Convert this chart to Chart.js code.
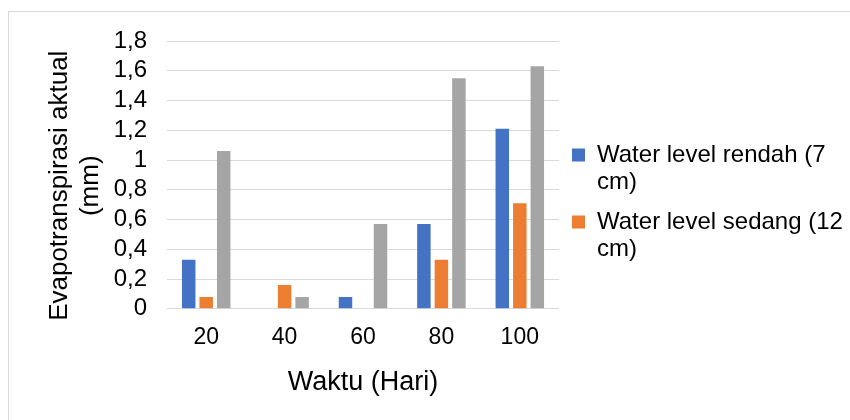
<!DOCTYPE html>
<html>
<head>
<meta charset="utf-8">
<script src="https://cdn.jsdelivr.net/npm/chart.js@4.4.1/dist/chart.umd.min.js"></script>
<style>
  html, body { margin: 0; padding: 0; background: #fff; overflow: hidden; }
  #frame { position: absolute; left: 8px; top: 11px; width: 900px; height: 450px;
           border-left: 1px solid #d9d9d9; border-top: 1px solid #d9d9d9; }
  #wrap { position: absolute; left: 0; top: 0; width: 850px; height: 420px; }
</style>
</head>
<body>
<div id="frame"></div>
<div id="wrap"><canvas id="chart"></canvas></div>
<script>
// data
const categories = ['20', '40', '60', '80', '100'];
const seriesNames = ['Water level rendah (7 cm)', 'Water level sedang (12 cm)', 'Water level tinggi (17 cm)'];
const rendah = [0.33, 0, 0.08, 0.57, 1.21];
const sedang = [0.08, 0.16, 0, 0.33, 0.71];
const tinggi = [1.06, 0.08, 0.57, 1.55, 1.63];
const yTickLabels = ['0', '0,2', '0,4', '0,6', '0,8', '1', '1,2', '1,4', '1,6', '1,8'];

const colors = ['#4472C4', '#ED7D31', '#A5A5A5'];
const FONT = "'Liberation Sans', Arial, sans-serif";

// legend labels wrap their last word onto a second line, like the original
function wrapLast(text) {
    const i = text.lastIndexOf(' ');
    return i > 0 ? [text.slice(0, i), text.slice(i + 1)] : text;
}

const ctx = document.getElementById('chart').getContext('2d');
const chart = new Chart(ctx, {
    type: 'bar',
    data: {
        labels: categories,
        datasets: [rendah, sedang, tinggi].map((d, i) => ({
            label: seriesNames[i], data: d, backgroundColor: colors[i],
            barPercentage: 0.77, categoryPercentage: 0.67
        }))
    },
    options: {
        responsive: true, maintainAspectRatio: false, animation: false,
        devicePixelRatio: 1,
        layout: { padding: { left: 44, top: 2, right: 1, bottom: 15 } },
        scales: {
            x: {
                grid: { display: false, drawTicks: false },
                border: { display: false },
                ticks: { color: '#000', padding: 15, font: { size: 23, family: FONT } },
                title: { display: true, text: 'Waktu (Hari)', color: '#000',
                    font: { size: 27, family: FONT }, padding: { top: 0, bottom: 6.2 } }
            },
            y: {
                min: 0, max: 1.8,
                grid: { color: '#d9d9d9', drawTicks: false },
                border: { display: false },
                ticks: { stepSize: 0.2, autoSkip: false, color: '#000', padding: 20,
                    font: { size: 24, family: FONT },
                    callback: (v, i) => yTickLabels[i] },
                // trailing spaces nudge the rotated title down a little, as in the original
                title: { display: true, text: ['Evapotranspirasi aktual   ', '(mm)   '], color: '#000',
                    font: { size: 26, family: FONT }, padding: 0 },
                afterFit: s => { s.width = 123; }
            }
        },
        plugins: {
            // the original title is cropped away above the frame; keep its space only
            title: { display: true, text: '', font: { size: 12 }, padding: { top: 24.6, bottom: 0 } },
            tooltip: { enabled: false },
            legend: {
                position: 'right', align: 'center', maxWidth: 290,
                labels: {
                    boxWidth: 13, boxHeight: 13, padding: 13, color: '#000',
                    font: { size: 24, family: FONT, lineHeight: 1.125 },
                    filter: item => item.datasetIndex < 2,
                    generateLabels: c => Chart.defaults.plugins.legend.labels.generateLabels(c)
                        .map(it => Object.assign(it, { text: wrapLast(it.text) }))
                }
            }
        }
    }
});
</script>
</body>
</html>
